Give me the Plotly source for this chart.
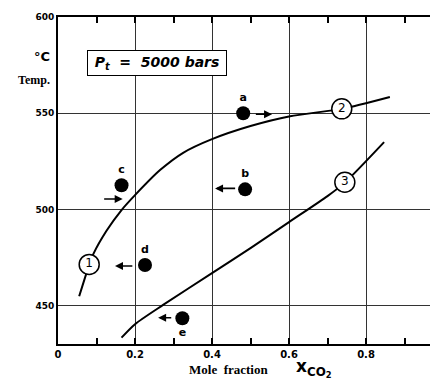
import plotly.graph_objects as go

# ---- data ----
curve12_x = [0.055, 0.081, 0.092, 0.126, 0.164, 0.2, 0.265, 0.325, 0.4, 0.5, 0.603, 0.737, 0.862]
curve12_y = [455, 471.3, 477, 489, 499.5, 507.5, 520.5, 529.5, 536.6, 543.4, 548.5, 552.3, 558.5]
curve3_x = [0.165, 0.2, 0.273, 0.4, 0.5, 0.6, 0.7, 0.745, 0.847]
curve3_y = [433.5, 440.5, 450.5, 467, 480, 493.5, 507, 514, 535]

curve_labels = ["1", "2", "3"]
curve_label_x = [0.081, 0.737, 0.745]
curve_label_y = [471.5, 552.3, 514.2]

point_names = ["a", "b", "c", "d", "e"]
point_x = [0.481, 0.486, 0.165, 0.226, 0.323]
point_y = [550, 510.5, 512.6, 471.2, 443.6]
point_label_pos = ["top center", "top center", "top center", "top center", "bottom center"]

arrow_tail_x = [0.510, 0.464, 0.116, 0.197, 0.298]
arrow_head_x = [0.556, 0.408, 0.168, 0.148, 0.260]
arrow_y = [549.5, 511, 505.5, 470.7, 443.8]

x_ticks = [0, 0.2, 0.4, 0.6, 0.8]
x_tick_labels = ["0", "0.2", "0.4", "0.6", "0.8"]
y_ticks = [450, 500, 550, 600]

fig = go.Figure()

fig.add_trace(go.Scatter(x=curve12_x, y=curve12_y, mode="lines",
                         line=dict(color="black", width=2, shape="spline", smoothing=0.7),
                         hoverinfo="skip"))
fig.add_trace(go.Scatter(x=curve3_x, y=curve3_y, mode="lines",
                         line=dict(color="black", width=2, shape="spline", smoothing=0.7),
                         hoverinfo="skip"))
# invisible trace to carry the top (mirror) axis
fig.add_trace(go.Scatter(x=curve3_x, y=curve3_y, xaxis="x2", mode="lines",
                         line=dict(width=0), opacity=0, hoverinfo="skip"))

fig.add_trace(go.Scatter(x=curve_label_x, y=curve_label_y, mode="markers+text",
                         text=curve_labels, textposition="middle center",
                         textfont=dict(family="DejaVu Sans", size=12, color="black"),
                         marker=dict(size=20, color="white", line=dict(color="black", width=1.5)),
                         hoverinfo="skip"))

fig.add_trace(go.Scatter(x=point_x, y=point_y, mode="markers+text",
                         text=point_names, textposition=point_label_pos,
                         textfont=dict(family="DejaVu Sans", size=11, color="black", weight="bold"),
                         marker=dict(size=14, color="black"),
                         hoverinfo="skip"))

for tx, hx, ay in zip(arrow_tail_x, arrow_head_x, arrow_y):
    fig.add_annotation(x=hx, y=ay, ax=tx, ay=ay, xref="x", yref="y", axref="x", ayref="y",
                       showarrow=True, arrowhead=2, arrowsize=1, arrowwidth=1.6,
                       arrowcolor="black", text="")

# pressure box
fig.add_annotation(x=0.258, y=576, xref="x", yref="y", showarrow=False,
                   text="<b><i>P<sub>t</sub>  =  5000 bars</i></b>",
                   font=dict(family="DejaVu Sans", size=14, color="black"),
                   bordercolor="black", borderwidth=1, borderpad=2, bgcolor="white",
                   width=134, height=20)

# axis labels
fig.add_annotation(x=-0.016, y=0.878, xref="paper", yref="paper", xanchor="right", yanchor="middle",
                   showarrow=False, text="<b>°C</b>",
                   font=dict(family="DejaVu Sans", size=13, color="black"))
fig.add_annotation(x=-0.016, y=0.807, xref="paper", yref="paper", xanchor="right", yanchor="middle",
                   showarrow=False, text="<b>Temp.</b>",
                   font=dict(family="Liberation Serif", size=12, color="black"))
fig.add_annotation(x=0.34, y=-0.078, xref="paper", yref="paper", xanchor="left", yanchor="middle",
                   showarrow=False, text="<b>Mole  fraction</b>",
                   font=dict(family="Liberation Serif", size=13, color="black"))
fig.add_annotation(x=0.62, y=-0.074, xref="paper", yref="paper", xanchor="left", yanchor="middle",
                   showarrow=False, text="<b>x<sub>CO<sub>2</sub></sub></b>",
                   font=dict(family="DejaVu Sans", size=17, color="black"))

axis_common = dict(range=[0, 0.987], ticks="inside", ticklen=6, tickwidth=1.5, tickcolor="black",
                   showline=True, linecolor="black", linewidth=2, zeroline=False)

fig.update_layout(
    xaxis=dict(**axis_common, tickvals=x_ticks, ticktext=x_tick_labels,
               minor=dict(dtick=0.1, tick0=0, ticks="inside", ticklen=6, tickwidth=1.5,
                          tickcolor="black", showgrid=False),
               showgrid=True, gridcolor="#333333", gridwidth=1,
               tickfont=dict(family="DejaVu Sans", size=10, color="black", weight="bold"),
               automargin=False),
    xaxis2=dict(**axis_common, overlaying="x", side="top", anchor="y", matches="x",
                tickvals=x_ticks, showticklabels=False, showgrid=False,
                minor=dict(dtick=0.1, tick0=0, ticks="inside", ticklen=6, tickwidth=1.5,
                           tickcolor="black", showgrid=False),
                automargin=False),
    yaxis=dict(range=[430.2, 600], tickvals=y_ticks, ticks="",
               showline=True, linecolor="black", linewidth=2,
               showgrid=True, gridcolor="#333333", gridwidth=1, zeroline=False,
               tickfont=dict(family="DejaVu Sans", size=9, color="black", weight="bold"),
               automargin=False),
)

# page body has an 8px margin: shift/resize so the plot area lands where it does in the reference
fig.update_layout(width=430, height=375, margin=dict(l=50, r=0, t=9, b=39),
                  plot_bgcolor="white", paper_bgcolor="white", showlegend=False)

fig.write_html("out.html")
